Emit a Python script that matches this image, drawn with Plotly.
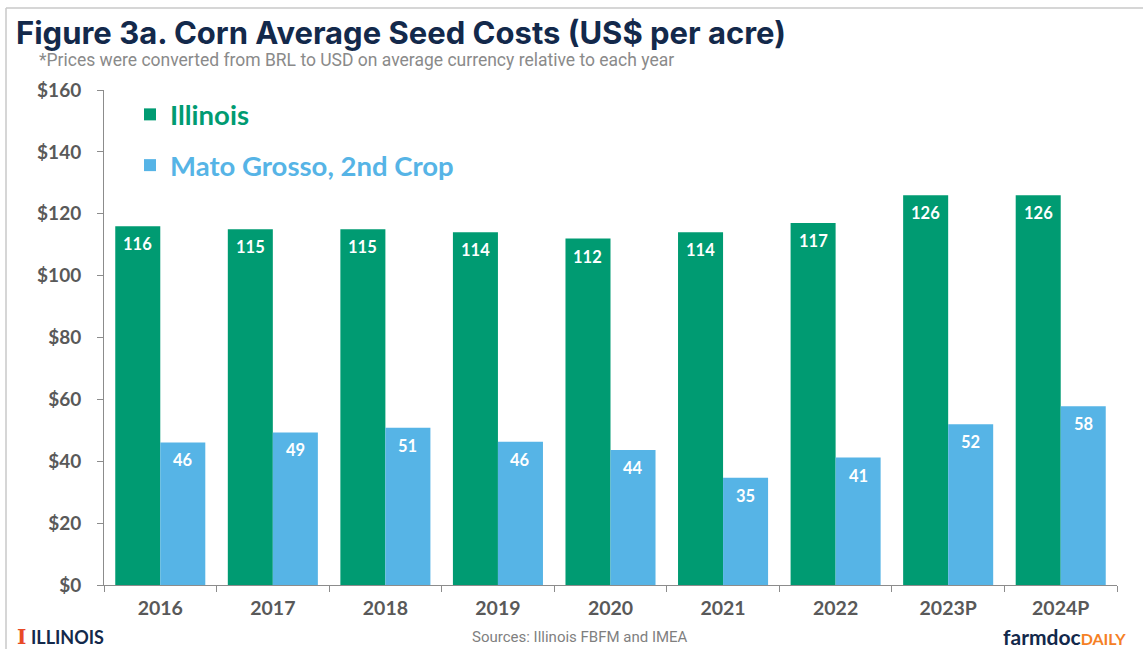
import plotly.graph_objects as go

years = ["2016", "2017", "2018", "2019", "2020", "2021", "2022", "2023P", "2024P"]
illinois = [116, 115, 115, 114, 112, 114, 117, 126, 126]
mato_grosso = [46.1, 49.3, 50.8, 46.3, 43.6, 34.7, 41.2, 52.0, 57.8]
y_ticks = [0, 20, 40, 60, 80, 100, 120, 140, 160]
y_labels = ["$" + str(v) for v in y_ticks]

GREEN = "#009B72"
BLUE = "#56B4E6"
NAVY = "#13294B"
ORANGE = "#E84A27"
GREY = "#595959"

W, H = 1143, 649
L, R, T, B = 104, 26, 90, 64
PW, PH = W - L - R, H - T - B


def px(x):
    return (x - L) / PW


def py(y):
    return (H - B - y) / PH


fig = go.Figure()
fig.add_trace(go.Bar(
    x=years, y=illinois, name="<b><span style='color:%s'>Illinois</span></b>" % GREEN,
    marker=dict(color=GREEN, line=dict(width=0)), legendgroup="a", hoverinfo="y",
))
fig.add_trace(go.Bar(
    x=years, y=mato_grosso, name="<b><span style='color:%s'>Mato Grosso, 2nd Crop</span></b>" % BLUE,
    marker=dict(color=BLUE, line=dict(width=0)), legendgroup="b", hoverinfo="y",
))

# value labels inside the top of each bar (bars are 0.4 of a category wide each)
offset_px = PW / len(years) * 0.8 / 4
for vals, sign in ((illinois, -1), (mato_grosso, 1)):
    for i, v in enumerate(vals):
        fig.add_annotation(x=i, y=v, xref="x", yref="y", text="<b>%d</b>" % round(v),
                           showarrow=False, xshift=sign * offset_px, yshift=-18,
                           yanchor="middle", xanchor="center",
                           font=dict(color="white", size=16.5, family="Lato"))

fig.update_layout(
    width=W, height=H,
    margin=dict(l=L, r=R, t=T, b=B),
    paper_bgcolor="white", plot_bgcolor="white",
    barmode="group", bargap=0.2, bargroupgap=0,
    showlegend=True,
    legend=dict(x=px(130), y=py(90), xanchor="left", yanchor="top",
                font=dict(size=27.5, family="Lato"), tracegroupgap=12,
                bgcolor="rgba(0,0,0,0)"),
    xaxis=dict(type="category", categoryorder="array", categoryarray=years,
               range=[-0.5, len(years) - 0.5],
               showline=True, linecolor="#8c8c8c", linewidth=1, ticks="outside",
               tickson="boundaries", ticklen=6, tickcolor="#8c8c8c", tickangle=0,
               tickfont=dict(size=19.5, family="Lato", color=GREY, weight="bold"),
               ticklabelstandoff=6, showgrid=False, automargin=False),
    yaxis=dict(range=[0, 160], tickvals=y_ticks, ticktext=y_labels,
               showline=True, linecolor="#8c8c8c", linewidth=1, ticks="outside",
               ticklen=6, tickcolor="#8c8c8c", showgrid=False, zeroline=False,
               ticklabelstandoff=12, automargin=False,
               tickfont=dict(size=19, family="Lato", color=GREY, weight="bold")),
    font=dict(family="Lato"),
)

# frame lines (top and left)
fig.add_shape(type="line", xref="paper", yref="paper", x0=px(6), x1=px(1143), y0=py(8), y1=py(8),
              line=dict(color="#c8c8c8", width=1.5))
fig.add_shape(type="line", xref="paper", yref="paper", x0=px(6), x1=px(6), y0=py(8), y1=py(649),
              line=dict(color="#c8c8c8", width=1.5))

fig.add_annotation(xref="paper", yref="paper", x=px(14), y=py(33), xanchor="left", yanchor="middle",
                   text="<b>Figure 3a. Corn Average Seed Costs (US$ per acre)</b>", showarrow=False,
                   font=dict(size=31, family="Inter", color=NAVY))
fig.add_annotation(xref="paper", yref="paper", x=px(37), y=py(60), xanchor="left", yanchor="middle",
                   text="*Prices were converted from BRL to USD on average currency relative to each year",
                   showarrow=False, font=dict(size=17.5, family="Roboto", color="#8a8a8a"))

fig.add_annotation(xref="paper", yref="paper", x=px(580), y=py(637), xanchor="center", yanchor="middle",
                   text="Sources: Illinois FBFM and IMEA", showarrow=False,
                   font=dict(size=15, family="Roboto", color="#7f7f7f"))
fig.add_annotation(xref="paper", yref="paper", x=px(15), y=py(637), xanchor="left", yanchor="middle",
                   text="<span style='color:%s;font-family:DejaVu Serif;font-size:20px'><b>I</b></span> <b>ILLINOIS</b>" % ORANGE,
                   showarrow=False, font=dict(size=18, family="Lato", color=NAVY))
fig.add_annotation(xref="paper", yref="paper", x=px(1128), y=py(636), xanchor="right", yanchor="middle",
                   text="<b>farmdoc</b><span style='color:%s;font-size:16px'><b>DAILY</b></span>" % "#F58025",
                   showarrow=False, font=dict(size=21, family="Lato", color=NAVY))

fig.write_html("out.html", config={"displayModeBar": False},
               post_script="document.body.style.margin='0';document.body.style.overflow='hidden';")
